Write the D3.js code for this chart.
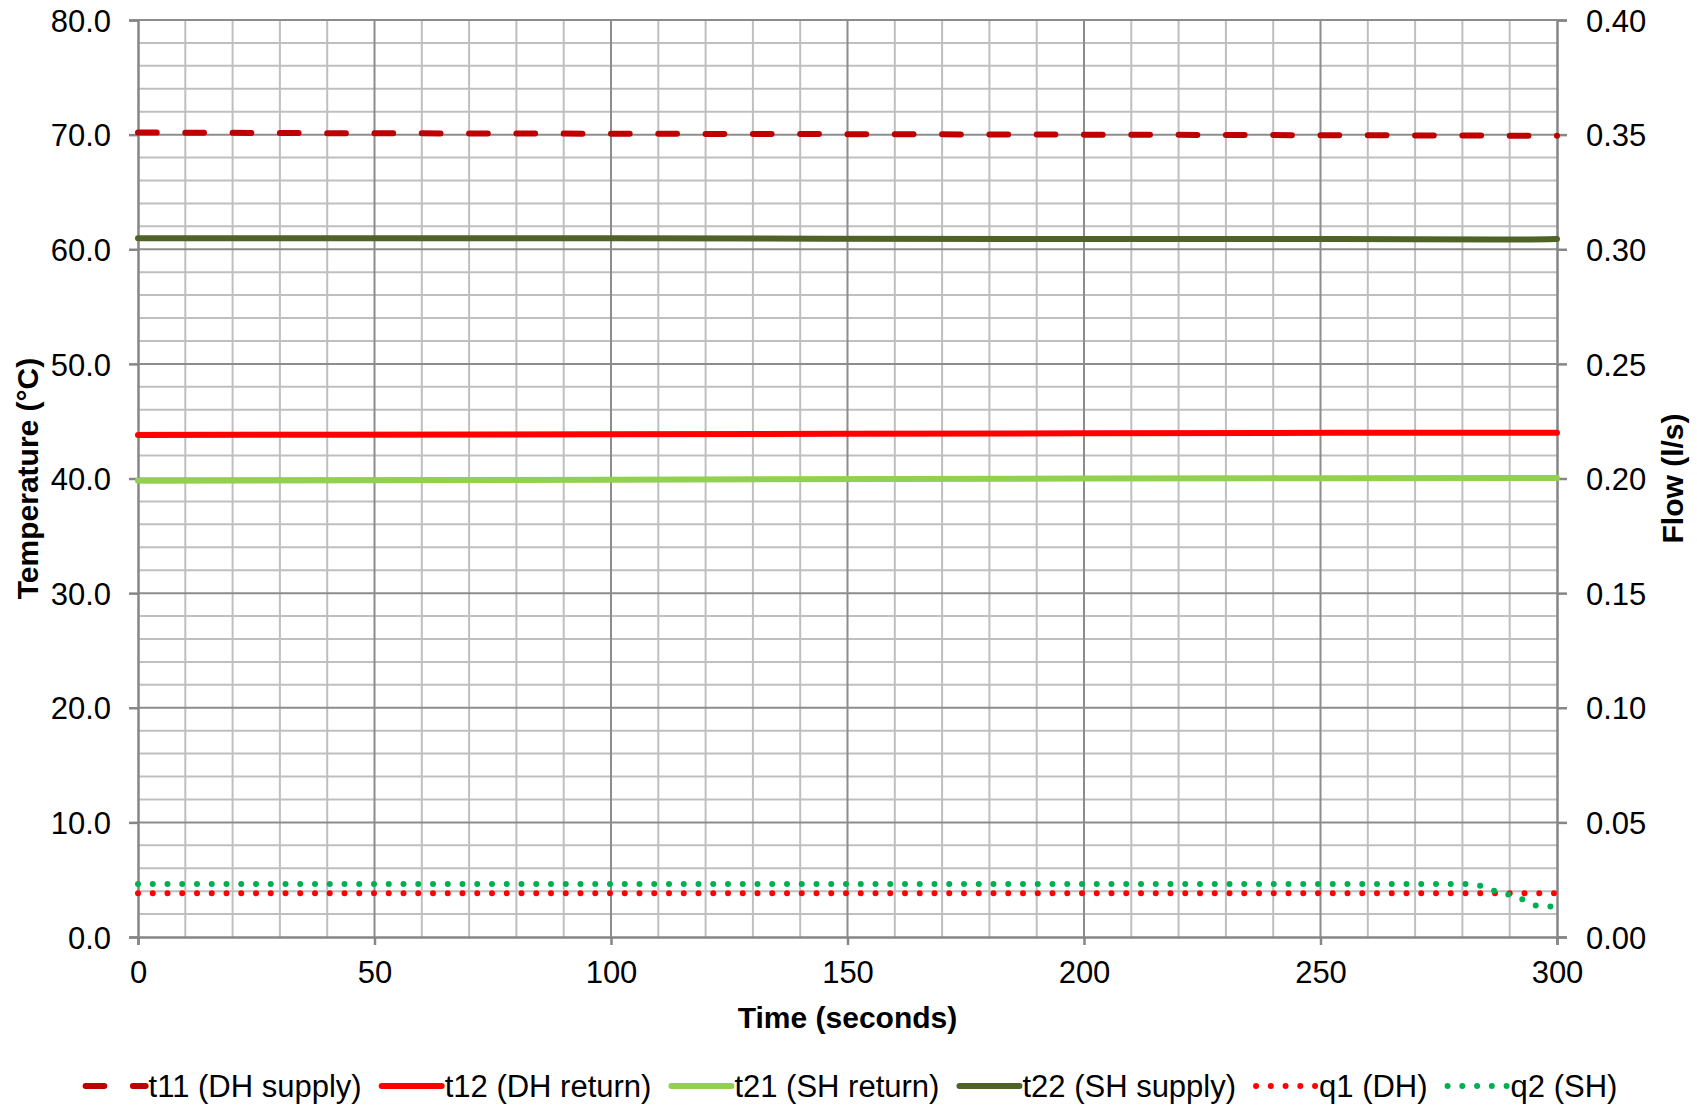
<!DOCTYPE html>
<html>
<head>
<meta charset="utf-8">
<script src="https://cdn.jsdelivr.net/npm/d3@7"></script>
<style>
	body { margin: 0; background: #fff; }
	svg { display: block; font-family: "Liberation Sans", Arial, sans-serif; }
</style>
</head>
<body>
<div id="chart"></div>
<script>
// series: [seconds, value]
var t11 = [[0, 70.18], [50, 70.12], [100, 70.08], [150, 70.04], [200, 70.0], [250, 69.95], [300, 69.9]];
var t12 = [[0, 43.8], [100, 43.85], [200, 43.95], [300, 44.0]];
var t21 = [[0, 39.8], [100, 39.9], [200, 40.0], [300, 40.05]];
var t22 = [[0, 60.95], [100, 60.95], [190, 60.9], [250, 60.9], [290, 60.85], [300, 60.9]];
// flows on the right axis (l/s)
var q1 = [[0, 0.0191], [100, 0.0191], [200, 0.0191], [300, 0.0191]];
var q2 = [[0, 0.0231], [280, 0.0231], [284, 0.0222], [287, 0.0200], [290, 0.0183], [293, 0.0162], [296, 0.0136], [300, 0.0133]];

var xTicks = [0, 50, 100, 150, 200, 250, 300];
var yTicks = [0, 10, 20, 30, 40, 50, 60, 70, 80];
var y2Ticks = [0, 0.05, 0.10, 0.15, 0.20, 0.25, 0.30, 0.35, 0.40];

var seriesNames = ['t11 (DH supply)', 't12 (DH return)', 't21 (SH return)', 't22 (SH supply)', 'q1 (DH)', 'q2 (SH)'];

var width = 1697, height = 1108;
var margin = { top: 20, right: 140, bottom: 171, left: 138 };
var w = width - margin.left - margin.right;
var h = height - margin.top - margin.bottom;

var svg = d3.select('#chart').append('svg')
	.attr('width', width)
	.attr('height', height);

var g = svg.append('g')
	.attr('transform', 'translate(' + margin.left + ',' + margin.top + ')');

var x = d3.scaleLinear().domain([0, 300]).range([0, w]);
var y = d3.scaleLinear().domain([0, 80]).range([h, 0]);
var y2 = d3.scaleLinear().domain([0, 0.4]).range([h, 0]);

// minor grid
g.append('g').selectAll('line')
	.data(d3.range(10, 300, 10).filter(function(d) { return d % 50 !== 0; }))
	.enter().append('line')
	.attr('x1', function(d) { return x(d); }).attr('x2', function(d) { return x(d); })
	.attr('y1', 0).attr('y2', h)
	.attr('stroke', '#bfbfbf').attr('stroke-width', 2);
g.append('g').selectAll('line')
	.data(d3.range(2, 80, 2).filter(function(d) { return d % 10 !== 0; }))
	.enter().append('line')
	.attr('y1', function(d) { return y(d); }).attr('y2', function(d) { return y(d); })
	.attr('x1', 0).attr('x2', w)
	.attr('stroke', '#bfbfbf').attr('stroke-width', 2);

// major grid
g.append('g').selectAll('line')
	.data(xTicks.slice(1, -1))
	.enter().append('line')
	.attr('x1', function(d) { return x(d); }).attr('x2', function(d) { return x(d); })
	.attr('y1', 0).attr('y2', h)
	.attr('stroke', '#8c8c8c').attr('stroke-width', 2);
g.append('g').selectAll('line')
	.data(yTicks.slice(1))
	.enter().append('line')
	.attr('y1', function(d) { return y(d); }).attr('y2', function(d) { return y(d); })
	.attr('x1', 0).attr('x2', w)
	.attr('stroke', '#8c8c8c').attr('stroke-width', 2);

// axes
var xAxis = g.append('g')
	.attr('transform', 'translate(0,' + h + ')')
	.call(d3.axisBottom(x).tickValues(xTicks).tickSize(8).tickPadding(16).tickFormat(d3.format('d')));
var yAxis = g.append('g')
	.call(d3.axisLeft(y).tickValues(yTicks).tickSize(9).tickPadding(18).tickFormat(d3.format('.1f')));
var yAxis2 = g.append('g')
	.attr('transform', 'translate(' + w + ',0)')
	.call(d3.axisRight(y2).tickValues(y2Ticks).tickSize(10).tickPadding(19).tickFormat(d3.format('.2f')));

[xAxis, yAxis, yAxis2].forEach(function(a) {
	a.select('.domain').attr('stroke', '#868686').attr('stroke-width', 2.5);
	a.selectAll('.tick line').attr('stroke', '#868686').attr('stroke-width', 2.5);
	a.selectAll('.tick text').attr('fill', '#000').style('font-size', '31px');
});
yAxis.selectAll('.tick text').attr('dy', '0.36em');
yAxis2.selectAll('.tick text').attr('dy', '0.36em');

// series
var styles = [
	{ data: t11, scale: y, color: '#c00000', dash: '18.7,28.6' },
	{ data: t12, scale: y, color: '#ff0000', dash: null },
	{ data: t21, scale: y, color: '#92d050', dash: null },
	{ data: t22, scale: y, color: '#4f6228', dash: null },
	{ data: q1, scale: y2, color: '#ff0000', dash: '0,14.75' },
	{ data: q2, scale: y2, color: '#00b050', dash: '0,14.75' }
];

styles.forEach(function(s) {
	var line = d3.line()
		.curve(d3.curveMonotoneX)
		.x(function(d) { return x(d[0]); })
		.y(function(d) { return s.scale(d[1]); });
	g.append('path')
		.datum(s.data)
		.attr('d', line)
		.attr('fill', 'none')
		.attr('stroke', s.color)
		.attr('stroke-width', 6)
		.attr('stroke-linecap', 'round')
		.attr('stroke-dasharray', s.dash);
});

// axis titles
svg.append('text')
	.attr('x', margin.left + w / 2)
	.attr('y', 1028)
	.attr('text-anchor', 'middle')
	.style('font-size', '30px').style('font-weight', 'bold')
	.text('Time (seconds)');
svg.append('text')
	.attr('transform', 'translate(38,' + (margin.top + h / 2) + ') rotate(-90)')
	.attr('text-anchor', 'middle')
	.style('font-size', '30px').style('font-weight', 'bold')
	.text('Temperature (°C)');
svg.append('text')
	.attr('transform', 'translate(1683,' + (margin.top + h / 2) + ') rotate(-90)')
	.attr('text-anchor', 'middle')
	.style('font-size', '30px').style('font-weight', 'bold')
	.text('Flow (l/s)');

// legend
var legend = svg.append('g');
var cx = 0;
seriesNames.forEach(function(name, i) {
	var s = styles[i];
	var item = legend.append('g').attr('transform', 'translate(' + cx + ',0)');
	item.append('line')
		.attr('x1', 3).attr('x2', 63).attr('y1', 0).attr('y2', 0)
		.attr('stroke', s.color)
		.attr('stroke-width', 6)
		.attr('stroke-linecap', 'round')
		.attr('stroke-dasharray', s.dash);
	var t = item.append('text')
		.attr('x', 66).attr('dy', '0.36em')
		.style('font-size', '31px')
		.text(name);
	cx += 66 + t.node().getComputedTextLength() + 17;
});
cx -= 17;
legend.attr('transform', 'translate(' + (850 - cx / 2) + ',1086)');
</script>
</body>
</html>
